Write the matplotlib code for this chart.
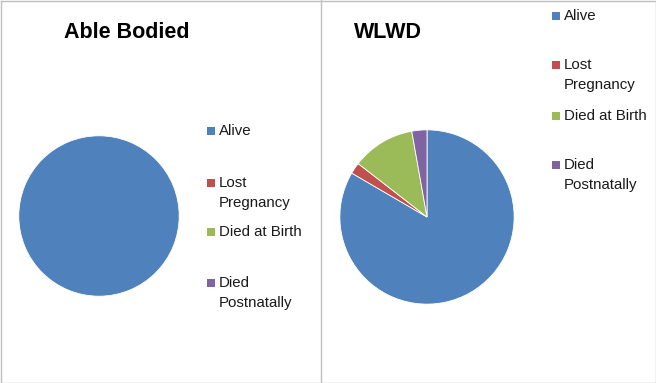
import matplotlib.pyplot as plt
from matplotlib.patches import Rectangle
from matplotlib.lines import Line2D

# outcome categories and their shares (percent)
categories = ['Alive', 'Lost Pregnancy', 'Died at Birth', 'Died Postnatally']
legend_lines = [['Alive'], ['Lost', 'Pregnancy'], ['Died at Birth'], ['Died', 'Postnatally']]
able_bodied = [100.0, 0.0, 0.0, 0.0]
wlwd = [83.4, 2.1, 11.7, 2.8]
colors = ['#4F81BD', '#C0504D', '#9BBB59', '#8064A2']

W, H = 656, 383
fig = plt.figure(figsize=(W / 100, H / 100), dpi=100)
fig.patch.set_facecolor('white')
font = 'Liberation Sans'


def px_axes(cx, cy, r):
    # axes box in pixel terms (origin top-left) that holds a unit-radius pie
    return fig.add_axes([(cx - r) / W, 1 - (cy + r) / H, 2 * r / W, 2 * r / H])


def draw_pie(values, cx, cy, r):
    ax = px_axes(cx, cy, r)
    cols = [c for v, c in zip(values, colors) if v > 0]
    vals = [v for v in values if v > 0]
    ax.pie(vals, colors=cols, startangle=90, counterclock=False,
           wedgeprops=dict(edgecolor='white', linewidth=0.6))
    ax.set_xlim(-1.01, 1.01)
    ax.set_ylim(-1.01, 1.01)
    ax.set_aspect('auto')
    ax.axis('off')


def draw_legend(x, y_starts):
    for lines, col, y in zip(legend_lines, colors, y_starts):
        fig.patches.append(Rectangle((x / W, 1 - (y + 4) / H), 8 / W, 8 / H,
                                     transform=fig.transFigure, facecolor=col,
                                     edgecolor='none'))
        for i, txt in enumerate(lines):
            fig.text((x + 12) / W, 1 - (y + i * 19.5) / H, txt, family=font,
                     fontsize=10.8, va='center', ha='left', color='#1a1a1a')


# panels
draw_pie(able_bodied, 99, 216, 81)
draw_pie(wlwd, 427, 217, 88)

fig.text(127 / W, 1 - 32 / H, 'Able Bodied', family=font, fontsize=15.5,
         fontweight='bold', ha='center', va='center')
fig.text(388 / W, 1 - 32 / H, 'WLWD', family=font, fontsize=15.5,
         fontweight='bold', ha='center', va='center')

draw_legend(207, [131, 183, 232, 283])
draw_legend(552, [16, 65, 116, 165])

# chart borders
border = '#BFBFBF'
fig.lines.append(Line2D([0.5 / W, (W - 0.5) / W, (W - 0.5) / W, 0.5 / W, 0.5 / W],
                        [1 - 0.5 / H, 1 - 0.5 / H, 0.5 / H, 0.5 / H, 1 - 0.5 / H],
                        transform=fig.transFigure, color=border, linewidth=1))
fig.lines.append(Line2D([320.5 / W, 320.5 / W], [0, 1], transform=fig.transFigure,
                        color=border, linewidth=1))

fig.savefig('out.png', dpi=100)
